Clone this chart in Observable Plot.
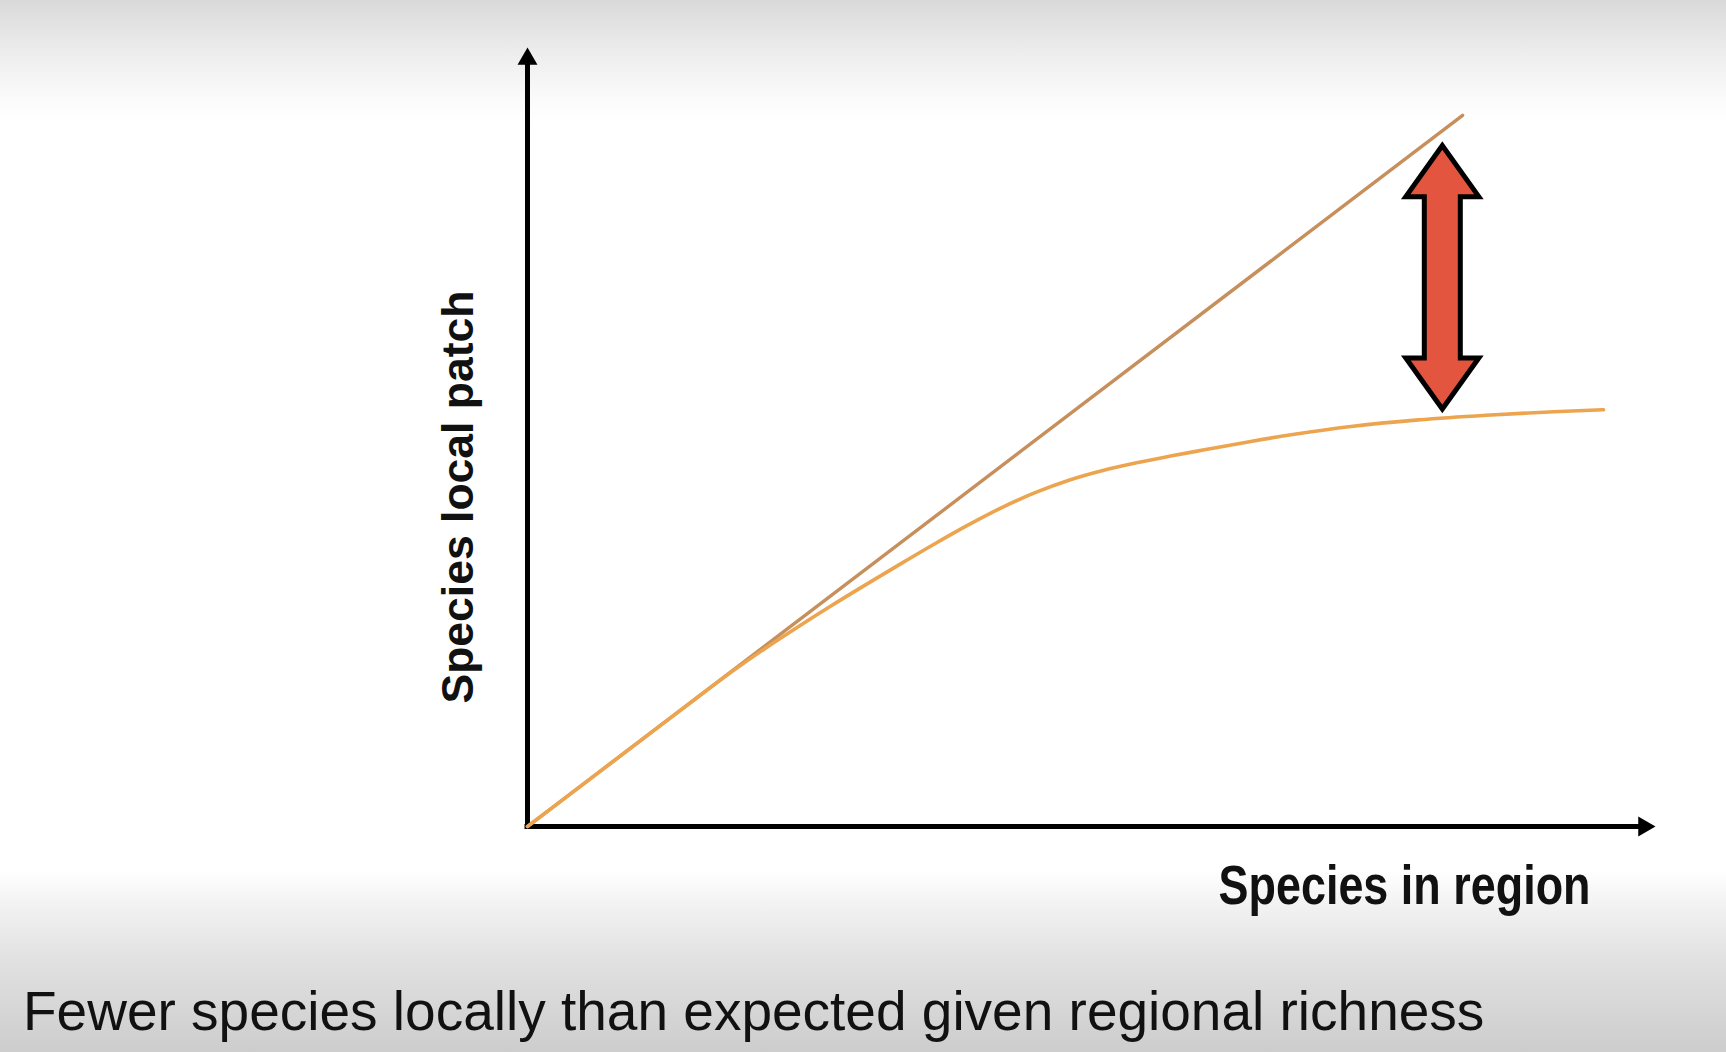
<!DOCTYPE html>
<html>
<head>
<meta charset="utf-8">
<script src="https://cdn.jsdelivr.net/npm/d3@7"></script>
<script src="https://cdn.jsdelivr.net/npm/@observablehq/plot@0.6"></script>
<style>
html, body { margin: 0; padding: 0; overflow: hidden; }
body {
  width: 1726px; height: 1052px; position: relative;
  background: linear-gradient(to bottom, #d9d9d9 0px, #eeeeee 55px, #fbfbfb 100px, #ffffff 125px, #ffffff 870px, #f2f2f2 905px, #e1e1e1 960px, #d6d6d6 1010px, #cdcdcd 1052px);
  font-family: "Liberation Sans", Arial, sans-serif;
}
#chart { position: absolute; left: 0; top: 0; }
#caption { position: absolute; left: 23px; top: 984px; font-size: 55px; line-height: 55px; color: #111; white-space: nowrap; }
</style>
</head>
<body>
<div id="chart"></div>
<div id="caption"></div>
<script>
// ---- data ----
const xLabel = "Species in region";
const yLabel = "Species local patch";
const captionText = "Fewer species locally than expected given regional richness";
const axisMax = 100;

// expected (straight line)
const expectedX = [0, 82.9];
const expectedY = [0, 91.3];

// observed (saturating curve)
const observedX = [0, 6, 12, 15, 18, 21, 24, 27, 30, 33, 36, 39, 42, 45, 48, 51, 54, 57, 60, 64, 68, 73, 79, 85, 91, 95.4];
const observedY = [0, 6.6, 13.2, 16.5, 19.75, 22.8, 25.65, 28.4, 31.05, 33.65, 36.2, 38.65, 40.9, 42.85, 44.45, 45.7, 46.7, 47.55, 48.35, 49.4, 50.35, 51.35, 52.2, 52.8, 53.25, 53.5];

// gap arrow
const gapX = [81.1];
const gapTop = [87.4];
const gapBottom = [53.6];

// ---- build ----
const W = 1726, H = 960;
const xOpt = {domain: [0, axisMax], range: [527, 1655]};
const yOpt = {domain: [0, axisMax], range: [826, 47]};
const yScale = Plot.scale({y: yOpt});

const expected = expectedX.map((x, i) => ({x, y: expectedY[i]}));
const observed = observedX.map((x, i) => ({x, y: observedY[i]}));
const gap = gapX.map((x, i) => ({x, y: gapBottom[i]}));
const gapLength = yScale.apply(gapBottom[0]) - yScale.apply(gapTop[0]);

const doubleArrow = {
  draw(ctx, l) {
    const hl = 51, hw = 36.5, sw = 18;
    ctx.moveTo(0, 0);
    ctx.lineTo(hw, -hl);
    ctx.lineTo(sw, -hl);
    ctx.lineTo(sw, -(l - hl));
    ctx.lineTo(hw, -(l - hl));
    ctx.lineTo(0, -l);
    ctx.lineTo(-hw, -(l - hl));
    ctx.lineTo(-sw, -(l - hl));
    ctx.lineTo(-sw, -hl);
    ctx.lineTo(-hw, -hl);
    ctx.closePath();
  }
};

const font = "Liberation Sans, Arial, sans-serif";

const chart = Plot.plot({
  width: W,
  height: H,
  margin: 0,
  x: {...xOpt, axis: null},
  y: {...yOpt, axis: null},
  style: {background: "transparent", overflow: "visible"},
  marks: [
    // axes
    Plot.ruleY([{y: 0, x1: 0, x2: axisMax}], {y: "y", x1: "x1", x2: "x2", stroke: "#000", strokeWidth: 5, insetRight: 14, strokeLinecap: "square"}),
    Plot.ruleX([{x: 0, y1: axisMax, y2: 0}], {x: "x", y1: "y1", y2: "y2", stroke: "#000", strokeWidth: 5, insetTop: 14, strokeLinecap: "square"}),
    Plot.dot([{x: 0, y: axisMax}], {x: "x", y: "y", symbol: "triangle", r: 7.4, fill: "#000", stroke: "none", dy: 11.5}),
    Plot.dot([{x: axisMax, y: 0}], {x: "x", y: "y", symbol: "triangle", r: 7.4, fill: "#000", stroke: "none", rotate: 90, dx: -11.5}),
    // lines
    Plot.line(expected, {x: "x", y: "y", stroke: "#c68f5b", strokeWidth: 3.4}),
    Plot.line(observed, {x: "x", y: "y", curve: "monotone-x", stroke: "#eca44f", strokeWidth: 3.6}),
    // gap arrow
    Plot.vector(gap, {x: "x", y: "y", length: gapLength, anchor: "start", shape: doubleArrow, fill: "#e4553f", stroke: "#000", strokeWidth: 5, strokeLinejoin: "miter", strokeLinecap: "butt"}),
    // labels
    Plot.text([{x: 0, y: 42.3, t: yLabel}], {x: "x", y: "y", text: "t", rotate: -90, dx: -55, lineAnchor: "bottom", textAnchor: "middle", fontSize: 44, fontWeight: "bold", fontFamily: font, fill: "#111"}),
    Plot.text([{x: 77.75, y: 0, t: xLabel}], {x: "x", y: "y", text: "t", dy: 77, lineAnchor: "bottom", textAnchor: "middle", fontSize: 56, fontWeight: "bold", fontFamily: font, fill: "#111"})
  ]
});

document.getElementById("chart").appendChild(chart);
document.getElementById("caption").textContent = captionText;

d3.select(chart).selectAll("text").each(function () {
  const t = this.textContent;
  if (t === xLabel) d3.select(this).attr("textLength", 372).attr("lengthAdjust", "spacingAndGlyphs");
  if (t === yLabel) d3.select(this).attr("textLength", 413).attr("lengthAdjust", "spacingAndGlyphs");
});
</script>
</body>
</html>
